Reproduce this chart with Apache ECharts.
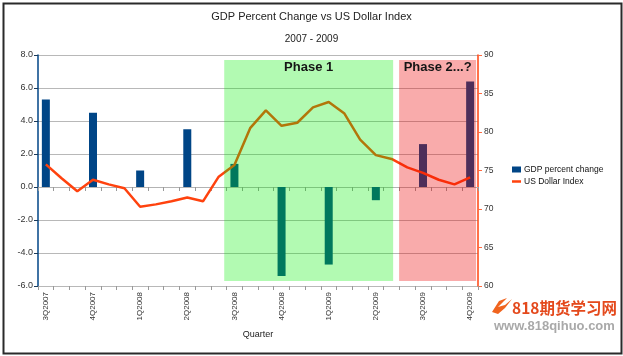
<!DOCTYPE html>
<html>
<head>
<meta charset="utf-8">
<script src="https://cdn.jsdelivr.net/npm/echarts@6/dist/echarts.min.js"></script>
<style>
html,body{margin:0;padding:0;background:#fff;}
#chart{width:623px;height:356px;}
</style>
</head>
<body>
<div id="chart"></div>
<script>
// ---- data ----
const quarters = ['3Q2007','4Q2007','1Q2008','2Q2008','3Q2008','4Q2008','1Q2009','2Q2009','3Q2009','4Q2009'];
const gdpChange = [5.3, 4.5, 1.0, 3.5, 1.4, -5.4, -4.7, -0.8, 2.6, 6.4];
// monthly US Dollar Index (3 readings per quarter)
const dollarIndex = [75.8, 74.0, 72.3, 73.8, 73.2, 72.7, 70.3, 70.6, 71.0, 71.5, 71.0, 74.2,
                     75.7, 80.5, 82.8, 80.8, 81.2, 83.2, 83.9, 82.4, 79.0, 77.0, 76.5, 75.4,
                     74.7, 73.8, 73.2, 74.1];
const leftTicks = [-6, 8, 2];
const rightTicks = [60, 90, 5];
const phaseNames = ['Phase 1', 'Phase 2...?'];
// phase extents in month units [from, to, top, bottom(left axis)]
const phaseStart = [11.85, 22.98];
const phaseEnd = [22.6, 27.88];
const phaseTop = [7.7, 7.7];
const phaseBottom = [-5.7, -5.7];

// ---- build ----
const perQ = 3;
const months = quarters.flatMap(q => [q, q + ' m2', q + ' m3']).slice(0, dollarIndex.length);
const barData = months.map((m, i) => i % perQ === 0 ? gdpChange[i / perQ] : '-');
const phaseData = phaseNames.map((n, i) => [phaseStart[i], phaseEnd[i], phaseTop[i], phaseBottom[i]]);
const phaseFill = ['rgba(0,238,0,0.30)', 'rgba(238,0,0,0.33)'];

const chart = echarts.init(document.getElementById('chart'), null, {renderer: 'canvas'});
const FONT = 'Liberation Sans, Arial, sans-serif';

chart.setOption({
  animation: false,
  backgroundColor: '#ffffff',
  textStyle: {fontFamily: FONT},
  title: [
    {text: 'GDP Percent Change vs US Dollar Index', left: 'center', top: 6,
     textStyle: {fontSize: 11, fontWeight: 'normal', color: '#222', fontFamily: FONT}},
    {text: '2007 - 2009', left: 'center', top: 29,
     textStyle: {fontSize: 10, fontWeight: 'normal', color: '#222', fontFamily: FONT}}
  ],
  legend: {
    orient: 'vertical', left: 512, top: 165, padding: 0, itemWidth: 9, itemHeight: 6, itemGap: 3,
    textStyle: {fontSize: 8.5, color: '#111', fontFamily: FONT, padding: [0, 0, 0, -2]},
    data: [{name: 'GDP percent change', icon: 'rect'},
           {name: 'US Dollar Index', icon: 'path://M0,0 M0,1.6 L10,1.6 L10,4.4 L0,4.4 Z M10,6'}]
  },
  grid: {left: 38, right: 145, top: 55, bottom: 70},
  xAxis: [
    {type: 'category', data: months, position: 'bottom',
     axisLine: {show: false, onZero: false},
     axisTick: {show: true, interval: 0, length: 4, lineStyle: {color: '#999'}},
     axisLabel: {interval: perQ - 1, rotate: 90, fontSize: 8, color: '#333', margin: 6,
                 formatter: v => v.split(' ')[0]},
     name: 'Quarter', nameLocation: 'middle', nameGap: 44,
     nameTextStyle: {fontSize: 9, color: '#222', fontFamily: FONT}},
    {type: 'category', data: months, position: 'bottom',
     axisLine: {show: true, onZero: true, lineStyle: {color: '#b3b3b3'}},
     axisTick: {show: true, interval: 0, length: 4, lineStyle: {color: '#999'}},
     axisLabel: {show: false}},
    {type: 'value', min: 0, max: months.length, show: false}
  ],
  yAxis: [
    {type: 'value', min: leftTicks[0], max: leftTicks[1], interval: leftTicks[2], position: 'left',
     axisLine: {show: true, lineStyle: {color: '#004586', width: 1.5}},
     axisTick: {show: true, length: 4, lineStyle: {color: '#1a3a5a'}},
     axisLabel: {fontSize: 9, color: '#333', margin: 5, formatter: v => v.toFixed(1)},
     splitLine: {show: true, lineStyle: {color: '#b8b8b8', width: 1}}},
    {type: 'value', min: rightTicks[0], max: rightTicks[1], interval: rightTicks[2], position: 'right',
     axisLine: {show: true, lineStyle: {color: '#ff420e', width: 1.5}},
     axisTick: {show: true, length: 4, lineStyle: {color: '#ff6a40'}},
     axisLabel: {fontSize: 8.5, color: '#333', margin: 6},
     splitLine: {show: false}}
  ],
  series: [
    {name: 'GDP percent change', type: 'bar', xAxisIndex: 0, yAxisIndex: 0,
     data: barData, barWidth: 8, itemStyle: {color: '#004586'}, z: 2},
    {name: 'US Dollar Index', type: 'line', xAxisIndex: 0, yAxisIndex: 1,
     data: dollarIndex, symbol: 'none', showSymbol: false,
     lineStyle: {color: '#ff420e', width: 2.5}, itemStyle: {color: '#ff420e'}, z: 3},
    {name: 'phases', type: 'custom', xAxisIndex: 2, yAxisIndex: 0, z: 10, silent: true,
     data: phaseData, encode: {x: [0, 1], y: [2, 3]},
     renderItem: function (params, api) {
       const a = api.coord([api.value(0), api.value(2)]);
       const b = api.coord([api.value(1), api.value(3)]);
       const i = params.dataIndex;
       return {type: 'group', children: [
         {type: 'rect', shape: {x: a[0], y: a[1], width: b[0] - a[0], height: b[1] - a[1]},
          style: {fill: phaseFill[i]}},
         {type: 'text', style: {text: phaseNames[i], x: (a[0] + b[0]) / 2, y: a[1] + 1,
          align: 'center', verticalAlign: 'top', fontSize: 13, fontWeight: 'bold', fontFamily: FONT, fill: '#151515'}}
       ]};
     }}
  ],
  graphic: [
    {type: 'rect', left: 1, top: 1, shape: {width: 618, height: 350},
     style: {fill: 'none', stroke: '#2a2a2a', lineWidth: 2}, z: 100},
    {type: 'polygon', shape: {points: [[492,312],[498,314],[505,308],[512,299],[505,305],[498,307],[504,301],[507,298],[499,301]]},
     style: {fill: '#f0641e'}, z: 100},
    {type: 'text', left: 512, top: 300, style: {text: '818期货学习网', fontSize: 15.5, fontWeight: 'bold',
     fontFamily: 'Noto Sans CJK SC, sans-serif', fill: '#e4491c'}, z: 100},
    {type: 'text', left: 494, top: 320, style: {text: 'www.818qihuo.com', fontSize: 13, fontWeight: 'bold',
     fontFamily: FONT, fill: '#a9a9a9'}, z: 100}
  ]
});
</script>
</body>
</html>
